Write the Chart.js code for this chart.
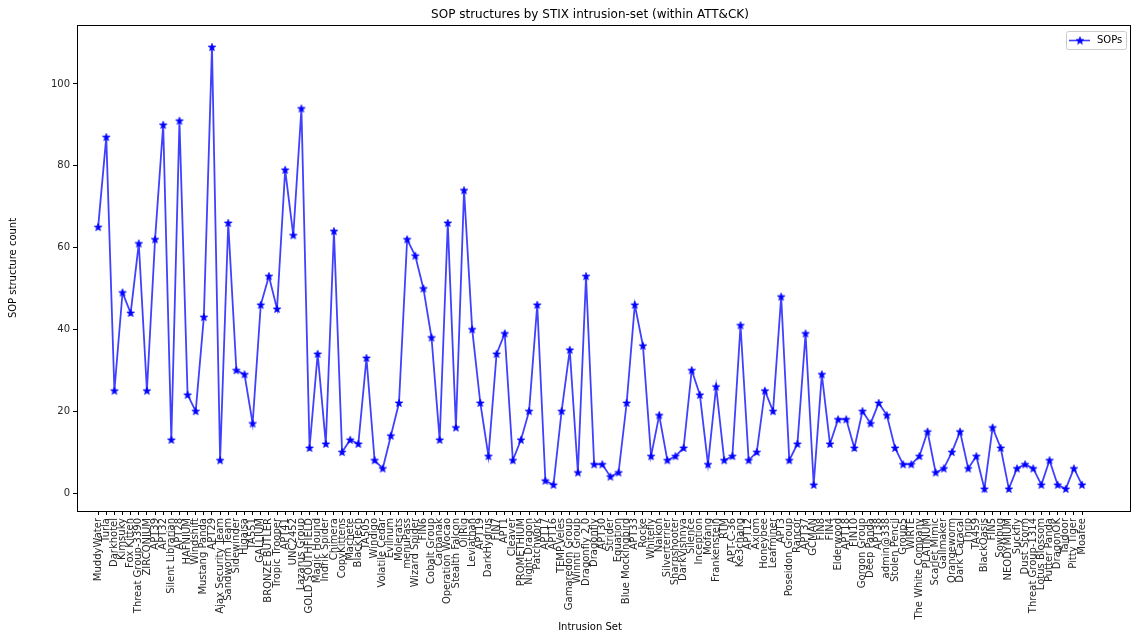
<!DOCTYPE html>
<html><head><meta charset="utf-8">
<script src="https://cdn.jsdelivr.net/npm/chart.js@4/dist/chart.umd.min.js"></script>
<style>html,body{margin:0;padding:0;background:#fff;}canvas{display:block;}</style>
</head><body>
<canvas id="c" width="1131" height="635"></canvas>
<script>
const categories = ["MuddyWater","Turla","Darkhotel","Kimsuky","Fox Kitten","Threat Group-3390","ZIRCONIUM","APT39","APT32","Silent Librarian","APT28","HAFNIUM","Windshift","Mustang Panda","APT29","Ajax Security Team","Sandworm Team","Sidewinder","Higaisa","TA551","GALLIUM","BRONZE BUTLER","Tropic Trooper","APT41","UNC2452","Lazarus Group","GOLD SOUTHFIELD","Magic Hound","Indrik Spider","Chimera","CopyKittens","Machete","BlackTech","TA505","Windigo","Volatile Cedar","Evilnum","Molerats","menuPass","Wizard Spider","FIN6","Cobalt Group","Carbanak","Operation Wocao","Stealth Falcon","OilRig","Leviathan","APT19","DarkHydrus","FIN7","APT1","Cleaver","PROMETHIUM","Night Dragon","Patchwork","APT17","APT16","TEMP.Veles","Gamaredon Group","Winnti Group","Dragonfly 2.0","Dragonfly","APT30","Strider","Equation","Blue Mockingbird","APT33","Rocke","Whitefly","Naikon","Silverterrier","Sharpshooter","DarkVishnya","Silence","Inception","Mofang","Frankenstein","RTM","APT-C-36","Ke3chang","APT12","Axiom","Honeybee","Leafminer","APT3","Poseidon Group","Rancor","APT37","GCMAN","FIN8","FIN4","Elderwood","APT18","FIN10","Gorgon Group","Deep Panda","APT38","admin@338","Stolen Pencil","Group5","WIRTE","The White Company","PLATINUM","Scarlet Mimic","Gallmaker","Orangeworm","Dark Caracal","Thrip","TA459","BlackOasis","FIN5","Sowbug","NEODYMIUM","Suckfly","Dust Storm","Threat Group-1314","Lotus Blossom","Putter Panda","DragonOK","Taidoor","Pitty Tiger","Moafee"];
const sopCounts = [65,87,25,49,44,61,25,62,90,13,91,24,20,43,109,8,66,30,29,17,46,53,45,79,63,94,11,34,12,64,10,13,12,33,8,6,14,22,62,58,50,38,13,66,16,74,40,22,9,34,39,8,13,20,46,3,2,20,35,5,53,7,7,4,5,22,46,36,9,19,8,9,11,30,24,7,26,8,9,41,8,10,25,20,48,8,12,39,2,29,12,18,18,11,20,17,22,19,11,7,7,9,15,5,6,10,15,6,9,1,16,11,1,6,7,6,2,8,2,1,6,2];
const yTicks = [0,20,40,60,80,100];
const seriesLabel = "SOPs";
const chartTitle = "SOP structures by STIX intrusion-set (within ATT&CK)";
const xTitle = "Intrusion Set";
const yTitle = "SOP structure count";

const FONT = "'DejaVu Sans', sans-serif";
const TXT = '#262626';

function starImage(r, color) {
  const s = Math.ceil(r * 2 + 2);
  const c = document.createElement('canvas');
  c.width = s; c.height = s;
  const g = c.getContext('2d');
  const cx = s / 2, cy = s / 2 + 0.3, ri = r * 0.42;
  g.beginPath();
  for (let k = 0; k < 10; k++) {
    const rad = k % 2 === 0 ? r : ri;
    const a = -Math.PI / 2 + k * Math.PI / 5;
    const px = cx + rad * Math.cos(a), py = cy + rad * Math.sin(a);
    if (k === 0) g.moveTo(px, py); else g.lineTo(px, py);
  }
  g.closePath();
  g.fillStyle = color; g.fill();
  g.strokeStyle = color; g.lineWidth = 0.7; g.stroke();
  return c;
}
const star = starImage(4.0, '#0000ff');

const framePlugin = {
  id: 'frame',
  afterDraw(chart) {
    const {ctx, chartArea: a} = chart;
    ctx.save();
    ctx.strokeStyle = '#000'; ctx.lineWidth = 1;
    ctx.strokeRect(Math.round(a.left) + 0.5, Math.round(a.top) + 0.5, Math.round(a.right - a.left), Math.round(a.bottom - a.top));
    // title and x-axis title
    ctx.fillStyle = '#000';
    ctx.font = "12px " + FONT;
    ctx.textAlign = 'center'; ctx.textBaseline = 'middle';
    ctx.fillText(chartTitle, 590, 15);
    ctx.font = "10px " + FONT;
    ctx.fillText(xTitle, 590, 627);
    // legend
    const bx = 1066, by = 31, bw = 60, bh = 18;
    ctx.beginPath();
    if (ctx.roundRect) ctx.roundRect(bx + 0.5, by + 0.5, bw, bh, 2); else ctx.rect(bx + 0.5, by + 0.5, bw, bh);
    ctx.fillStyle = 'rgba(255,255,255,0.8)'; ctx.fill();
    ctx.strokeStyle = '#cccccc'; ctx.lineWidth = 1; ctx.stroke();
    const ly = by + bh / 2 + 0.5;
    ctx.beginPath();
    ctx.moveTo(bx + 3, ly); ctx.lineTo(bx + 24, ly);
    ctx.strokeStyle = 'rgba(0,0,255,0.75)'; ctx.lineWidth = 1.6; ctx.stroke();
    ctx.drawImage(star, bx + 14 - star.width / 2, ly - star.height / 2);
    ctx.fillStyle = '#000'; ctx.font = "10px " + FONT;
    ctx.textAlign = 'left';
    ctx.fillText(seriesLabel, bx + 31, ly);
    ctx.restore();
  }
};

new Chart(document.getElementById('c'), {
  type: 'line',
  data: {
    datasets: [{
      label: seriesLabel,
      data: sopCounts.map((v, i) => ({x: i, y: v})),
      borderColor: 'rgba(0,0,255,0.75)',
      backgroundColor: '#0000ff',
      borderWidth: 1.8,
      tension: 0,
      pointStyle: star,
      pointRadius: 4,
      pointHoverRadius: 4
    }]
  },
  plugins: [framePlugin],
  options: {
    responsive: false,
    animation: false,
    events: [],
    layout: {autoPadding: false, padding: {top: 25, right: 1, left: 0, bottom: 0}},
    plugins: {legend: {display: false}, title: {display: false}, tooltip: {enabled: false}},
    scales: {
      x: {
        type: 'linear',
        min: -2.6, max: 126.9,
        afterBuildTicks: s => { s.ticks = categories.map((_, i) => ({value: i})); },
        afterFit: s => { s.height = 124; s.paddingRight = 0; s.paddingLeft = 0; },
        grid: {display: true, drawOnChartArea: false, drawTicks: true, tickLength: 4, color: '#000'},
        border: {display: true, color: '#000'},
        ticks: {
          autoSkip: false, minRotation: 90, maxRotation: 90, padding: 3,
          color: TXT, font: {family: FONT, size: 10},
          callback: v => categories[v]
        },
        title: {display: false}
      },
      y: {
        min: -4.4, max: 114.4,
        afterBuildTicks: s => { s.ticks = yTicks.map(v => ({value: v})); },
        afterFit: s => { s.width = 77; s.paddingTop = 0; s.paddingBottom = 0; },
        grid: {display: true, drawOnChartArea: false, drawTicks: true, tickLength: 4, color: '#000'},
        border: {display: true, color: '#000'},
        ticks: {color: TXT, font: {family: FONT, size: 10}, padding: 3},
        title: {display: true, text: yTitle, color: '#000', font: {family: FONT, size: 10}, padding: {top: 7, bottom: 0}}
      }
    }
  }
});
</script>
</body></html>
